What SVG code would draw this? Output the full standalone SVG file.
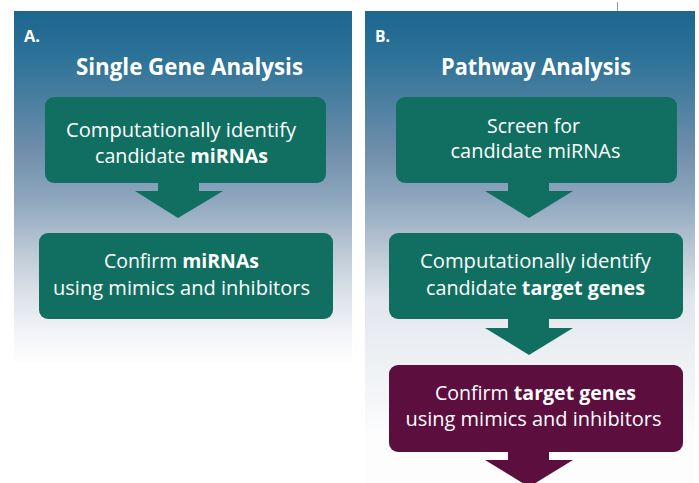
<svg xmlns="http://www.w3.org/2000/svg" width="699" height="483" viewBox="0 0 699 483">
<defs>
<linearGradient id="bgA" gradientUnits="userSpaceOnUse" x1="0" y1="11" x2="0" y2="362">
<stop offset="0" stop-color="#1c6690"/>
<stop offset="0.14" stop-color="#2e7398"/>
<stop offset="0.397" stop-color="#6f8eab"/>
<stop offset="0.54" stop-color="#8fa7be"/>
<stop offset="0.70" stop-color="#c0ccd8"/>
<stop offset="0.823" stop-color="#e0e5ec"/>
<stop offset="0.94" stop-color="#f6f7f9"/>
<stop offset="1" stop-color="#fdfdfe"/>
</linearGradient>
<linearGradient id="bgB" gradientUnits="userSpaceOnUse" x1="0" y1="11" x2="0" y2="434">
<stop offset="0" stop-color="#1c6690"/>
<stop offset="0.116" stop-color="#2e7398"/>
<stop offset="0.329" stop-color="#6f8eab"/>
<stop offset="0.447" stop-color="#8fa7be"/>
<stop offset="0.582" stop-color="#c0ccd8"/>
<stop offset="0.683" stop-color="#e2e6ed"/>
<stop offset="0.825" stop-color="#eef1f4"/>
<stop offset="0.92" stop-color="#f4f6f8"/>
<stop offset="1" stop-color="#fdfdfe"/>
</linearGradient>
<style>
.green{fill:#106f60}
.purple{fill:#5c0e3e}
.t{font-family:"Open Sans","Noto Sans","DejaVu Sans",sans-serif;font-size:20px;fill:#ffffff;text-anchor:middle}
.b{font-weight:bold}
.title{font-family:"Open Sans","Noto Sans","DejaVu Sans",sans-serif;font-size:23px;font-weight:bold;fill:#ffffff;text-anchor:middle}
.lbl{font-family:"Open Sans","Noto Sans","DejaVu Sans",sans-serif;font-size:16.5px;font-weight:bold;fill:#ffffff}
</style>
</defs>
<rect x="0" y="0" width="699" height="483" fill="#ffffff"/>
<line x1="617.5" y1="2" x2="617.5" y2="11" stroke="#9a9a9a" stroke-width="1"/>

<g id="panelA">
<rect x="14" y="11" width="338" height="351" fill="url(#bgA)"/>
<text class="lbl" x="24" y="42" textLength="16" lengthAdjust="spacingAndGlyphs">A.</text>
<text class="title" x="189.5" y="75" textLength="227" lengthAdjust="spacingAndGlyphs">Single Gene Analysis</text>
</g>
<g id="panelB">
<rect x="365" y="11" width="330" height="472" fill="url(#bgB)"/>
<text class="lbl" x="375" y="42" textLength="15" lengthAdjust="spacingAndGlyphs">B.</text>
<text class="title" x="536" y="75" textLength="190" lengthAdjust="spacingAndGlyphs">Pathway Analysis</text>
</g>

<g id="connectors">
<polygon class="green" points="158,180 199,180 199,191 223,191 178,218 135,191 158,191"/>
<polygon class="green" points="508,180 549,180 549,191 573,191 529,218 485,191 508,191"/>
<polygon class="green" points="508,316 549,316 549,328 573,328 529,355 485,328 508,328"/>
<polygon class="purple" points="508,449 549,449 549,460 573,460 529,487 485,460 508,460"/>
</g>

<g id="a1">
<rect class="green" x="45" y="97" width="281" height="86" rx="9"/>
<text class="t" x="181" y="137" textLength="230" lengthAdjust="spacingAndGlyphs">Computationally identify</text>
<text class="t" x="181.5" y="163" textLength="173" lengthAdjust="spacingAndGlyphs">candidate <tspan class="b">miRNAs</tspan></text>
</g>
<g id="a2">
<rect class="green" x="39" y="233" width="294" height="86" rx="9"/>
<text class="t" x="181.5" y="268" textLength="155" lengthAdjust="spacingAndGlyphs">Confirm <tspan class="b">miRNAs</tspan></text>
<text class="t" x="181.5" y="295" textLength="257" lengthAdjust="spacingAndGlyphs">using mimics and inhibitors</text>
</g>
<g id="b1">
<rect class="green" x="396" y="97" width="281" height="86" rx="9"/>
<text class="t" x="533.5" y="133" textLength="93" lengthAdjust="spacingAndGlyphs">Screen for</text>
<text class="t" x="535.5" y="158" textLength="170" lengthAdjust="spacingAndGlyphs">candidate miRNAs</text>
</g>
<g id="b2">
<rect class="green" x="389" y="233" width="294" height="86" rx="9"/>
<text class="t" x="535.5" y="268" textLength="231" lengthAdjust="spacingAndGlyphs">Computationally identify</text>
<text class="t" x="535.5" y="295" textLength="219" lengthAdjust="spacingAndGlyphs">candidate <tspan class="b">target genes</tspan></text>
</g>
<g id="b3">
<rect class="purple" x="389" y="365" width="294" height="87" rx="9"/>
<text class="t" x="535.5" y="400" textLength="201" lengthAdjust="spacingAndGlyphs">Confirm <tspan class="b">target genes</tspan></text>
<text class="t" x="533.5" y="426" textLength="256" lengthAdjust="spacingAndGlyphs">using mimics and inhibitors</text>
</g>
</svg>
